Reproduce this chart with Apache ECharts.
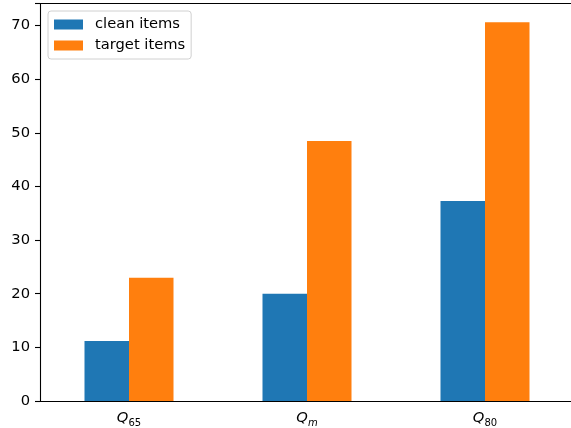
<!DOCTYPE html>
<html><head><meta charset="utf-8">
<script src="https://cdn.jsdelivr.net/npm/echarts@6/dist/echarts.min.js"></script>
<style>html,body{margin:0;padding:0;background:#fff}#c{width:571px;height:428px}</style>
</head><body><div id="c"></div>
<script>
const categories = ['{q|Q}{s|65}', '{q|Q}{si|m}', '{q|Q}{s|80}'];
const cleanItems = [11.2, 20.0, 37.3];
const targetItems = [23.0, 48.5, 70.6];
const yTicks = [0, 10, 20, 30, 40, 50, 60, 70];

const chart = echarts.init(document.getElementById('c'), null, {renderer: 'canvas'});
const font = "'DejaVu Sans', sans-serif";
const fs = 14.7;
chart.setOption({
  animation: false,
  textStyle: {fontFamily: font},
  grid: {left: 40, width: 534, top: 3.6, height: 397.4, containLabel: false, outerBoundsMode: 'none', show: false},
  legend: {
    orient: 'vertical', left: 48, top: 11,
    padding: [6, 6, 6, 6], itemGap: 6,
    itemWidth: 29, itemHeight: 10,
    borderColor: '#d0d0d0', borderWidth: 1, borderRadius: 3,
    backgroundColor: 'rgba(255,255,255,0.8)',
    icon: 'rect',
    textStyle: {fontFamily: font, fontSize: fs, color: '#000', padding: [0, 0, 0, 7]},
    data: ['clean items', 'target items']
  },
  xAxis: [{
    type: 'category', data: categories,
    axisLine: {lineStyle: {color: '#000', width: 1.1}},
    axisTick: {alignWithLabel: true, length: 5, lineStyle: {color: '#000', width: 1.1}},
    axisLabel: {
      margin: 8, color: '#000',
      rich: {
        q: {fontFamily: font, fontSize: fs, fontStyle: 'italic', color: '#000'},
        s: {fontFamily: font, fontSize: 10, color: '#000', padding: [9, 0, 0, 0]},
        si: {fontFamily: font, fontSize: 10, fontStyle: 'italic', color: '#000', padding: [9, 0, 0, 0]}
      }
    },
    splitLine: {show: false}
  }, {
    type: 'category', data: categories, position: 'top',
    axisLine: {show: true, lineStyle: {color: '#000', width: 1.1}},
    axisTick: {show: false}, axisLabel: {show: false}, splitLine: {show: false}
  }],
  yAxis: {
    type: 'value', min: 0, max: 74.1, interval: 10,
    axisLine: {show: true, lineStyle: {color: '#000', width: 1.1}},
    axisTick: {show: true, length: 5, lineStyle: {color: '#000', width: 1.1}},
    axisLabel: {
      margin: 10, color: '#000', fontFamily: font, fontSize: fs,
      formatter: v => yTicks.includes(v) ? String(v) : ''
    },
    splitLine: {show: false}
  },
  series: [
    {name: 'clean items', type: 'bar', data: cleanItems, barWidth: 44.5, barGap: '0%', itemStyle: {color: '#1f77b4'}},
    {name: 'target items', type: 'bar', data: targetItems, barWidth: 44.5, barGap: '0%', itemStyle: {color: '#ff7f0e'}}
  ]
});
</script></body></html>
